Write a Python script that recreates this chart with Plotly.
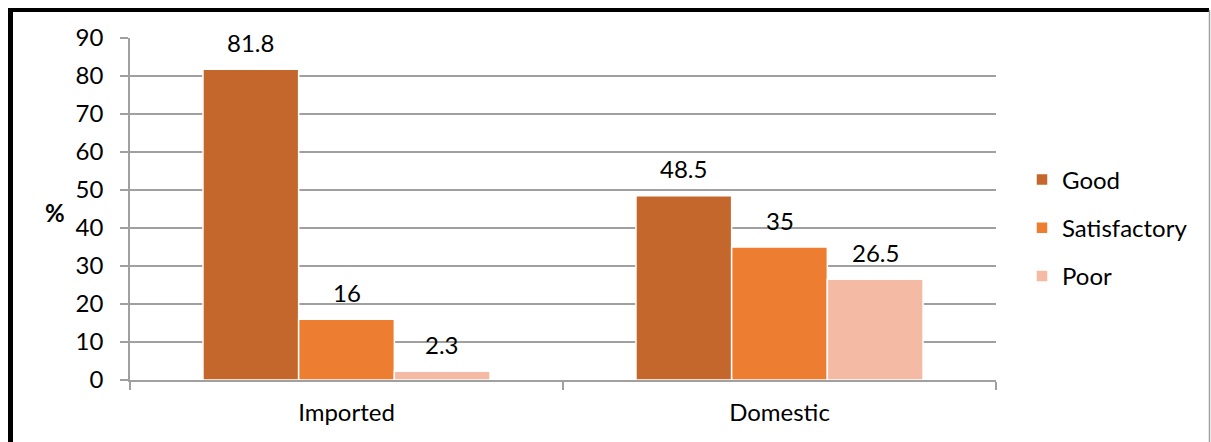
import plotly.graph_objects as go

categories = ["Imported", "Domestic"]
series_names = ["Good", "Satisfactory", "Poor"]
good = [81.8, 48.5]
satisfactory = [16, 35]
poor = [2.3, 26.5]
y_ticks = [0, 10, 20, 30, 40, 50, 60, 70, 80, 90]

colors = ["#C4672C", "#ED7D31", "#F5BAA3"]
values = [good, satisfactory, poor]

FONT = "Lato"
FS = 24
W, H = 1211, 442
L, R, T, B = 130, 215, 38, 62
BARGAP = 0.337

fig = go.Figure()
for i, (name, vals) in enumerate(zip(series_names, values)):
    fig.add_trace(go.Bar(
        x=categories, y=vals, name=name, legendgroup=name,
        marker=dict(color=colors[i], line=dict(color="white", width=1.5)),
    ))

# data labels
n = len(series_names)
bw = (1 - BARGAP) / n
for i, vals in enumerate(values):
    for j, v in enumerate(vals):
        fig.add_annotation(
            x=j + (i - (n - 1) / 2) * bw, y=v, xref="x", yref="y",
            text=f"{v:g}", showarrow=False, yshift=27, yanchor="middle",
            font=dict(family=FONT, size=FS, color="black"),
        )

pw = W - L - R
ph = H - T - B
def px(x):
    return (x - L) / pw
def py(y):
    return (H - B - y) / ph

fig.add_annotation(x=px(55), y=py(212), xref="paper", yref="paper", text="<b>%</b>",
                   showarrow=False, xanchor="center", yanchor="middle",
                   font=dict(family=FONT, size=FS, color="black"))

# frame
fig.add_shape(type="line", xref="paper", yref="paper", x0=px(10.5), x1=px(10.5), y0=py(8), y1=py(H + 5),
              line=dict(color="black", width=5))
fig.add_shape(type="line", xref="paper", yref="paper", x0=px(8), x1=px(1209), y0=py(10), y1=py(10),
              line=dict(color="black", width=4))
fig.add_shape(type="line", xref="paper", yref="paper", x0=px(1209.5), x1=px(1209.5), y0=py(10), y1=py(H + 5),
              line=dict(color="#A0A0A0", width=1.5))

fig.update_layout(
    width=W, height=H,
    margin=dict(l=L, r=R, t=T, b=B, autoexpand=False),
    barmode="group", bargap=BARGAP, bargroupgap=0,
    paper_bgcolor="white", plot_bgcolor="white",
    font=dict(family=FONT, size=FS, color="black"),
    showlegend=True,
    legend=dict(x=px(1022), y=py(228), xanchor="left", yanchor="middle",
                traceorder="grouped", tracegroupgap=14,
                font=dict(family=FONT, size=FS, color="black"),
                itemwidth=30, bgcolor="rgba(0,0,0,0)"),
    xaxis=dict(
        type="category", showline=True, linecolor="#A0A0A0", linewidth=1.5,
        ticks="outside", ticklen=8, tickcolor="#A0A0A0", tickwidth=1.5,
        tickson="boundaries", showgrid=False, ticklabelstandoff=10,
        tickfont=dict(family=FONT, size=FS, color="black"),
    ),
    yaxis=dict(
        range=[0, 90], tickvals=y_ticks, showline=True, linecolor="#A0A0A0", linewidth=1.5,
        ticks="outside", ticklen=8, tickcolor="#A0A0A0", tickwidth=1.5,
        showgrid=True, gridcolor="#A0A0A0", gridwidth=1.5, zeroline=False,
        ticklabelstandoff=12,
        tickfont=dict(family=FONT, size=FS, color="black"),
    ),
)

fig.write_html("out.html")
